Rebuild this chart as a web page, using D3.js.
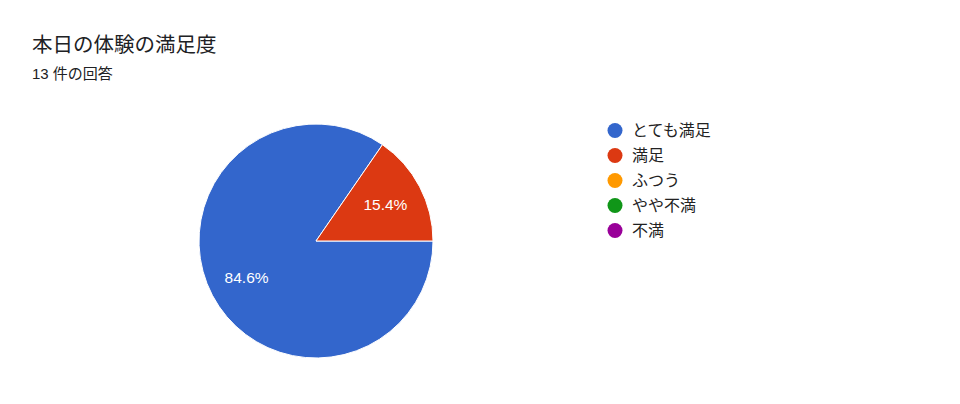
<!DOCTYPE html>
<html>
<head>
<meta charset="utf-8">
<script src="https://cdn.jsdelivr.net/npm/d3@7"></script>
<style>
  body { margin: 0; background: #fff; }
  svg { display: block; font-family: "Liberation Sans", Arial, "Noto Sans CJK JP", sans-serif; }
</style>
</head>
<body>
<svg id="chart" width="960" height="404"></svg>
<script>
const categories = ["とても満足", "満足", "ふつう", "やや不満", "不満"];
const counts = [11, 2, 0, 0, 0];
const colors = ["#3366cc", "#dc3912", "#ff9900", "#109618", "#990099"];
const title = "本日の体験の満足度";
const subtitle = "13 件の回答";

const svg = d3.select("#chart");

svg.append("text")
  .attr("x", 32).attr("y", 52)
  .style("font-size", "20.5px")
  .style("fill", "#202124")
  .text(title);

svg.append("text")
  .attr("x", 32).attr("y", 79)
  .style("font-size", "15px")
  .style("fill", "#202124")
  .text(subtitle);

// pie
const cx = 316, cy = 241, radius = 117;
const data = categories.map((c, i) => ({ name: c, value: counts[i], color: colors[i] }));
const total = d3.sum(counts);

const pie = d3.pie()
  .sort(null)
  .value(d => d.value)
  .startAngle(Math.PI / 2)
  .endAngle(Math.PI / 2 + 2 * Math.PI);

const arc = d3.arc().innerRadius(0).outerRadius(radius);
const labelArc = d3.arc().innerRadius(radius * 0.67).outerRadius(radius * 0.67);

const g = svg.append("g").attr("transform", `translate(${cx},${cy})`);
const arcs = pie(data).filter(d => d.data.value > 0);

g.selectAll("path")
  .data(arcs)
  .enter()
  .append("path")
  .attr("d", arc)
  .attr("fill", d => d.data.color)
  .attr("stroke", "#fff")
  .attr("stroke-width", 1);

g.selectAll(".label")
  .data(arcs)
  .enter()
  .append("text")
  .attr("transform", d => `translate(${labelArc.centroid(d)})`)
  .attr("text-anchor", "middle")
  .attr("dy", "0.35em")
  .style("font-size", "15.5px")
  .style("fill", "#fff")
  .text(d => (d.data.value / total * 100).toFixed(1) + "%");

// legend
const y = d3.scaleBand()
  .domain(categories)
  .range([118, 243]);

const legend = svg.append("g");
const item = legend.selectAll("g")
  .data(data)
  .enter()
  .append("g")
  .attr("transform", d => `translate(615,${y(d.name) + y.bandwidth() / 2})`);

item.append("circle")
  .attr("r", 7.5)
  .attr("fill", d => d.color);

item.append("text")
  .attr("x", 17)
  .attr("dy", "0.35em")
  .style("font-size", "16px")
  .style("fill", "#222")
  .text(d => d.name);
</script>
</body>
</html>
